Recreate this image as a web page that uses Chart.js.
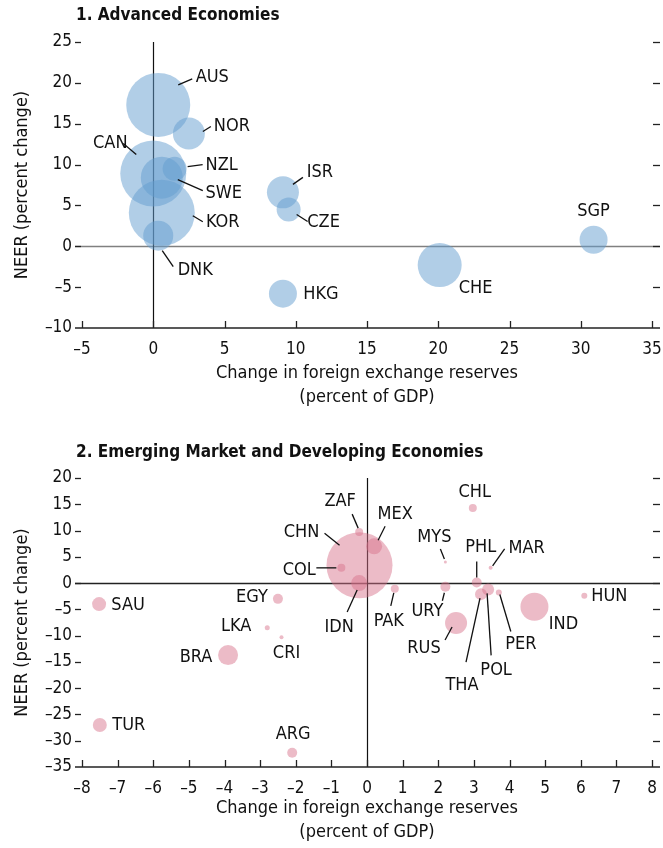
<!DOCTYPE html>
<html>
<head>
<meta charset="utf-8">
<script src="https://cdn.jsdelivr.net/npm/chart.js"></script>
<style>
  html, body { margin: 0; padding: 0; background: #fff; }
  #wrap { position: relative; width: 663px; height: 848px; }
  #advChart { position: absolute; left: 0; top: 0; }
  #emChart { position: absolute; left: 0; top: 420px; }
</style>
</head>
<body>
<div id="wrap">
  <canvas id="advChart" width="663" height="410"></canvas>
  <canvas id="emChart" width="663" height="428"></canvas>
</div>
<script>
// Panel 1: advanced economies
const advNames = ['AUS', 'NOR', 'CAN', 'NZL', 'SWE', 'KOR', 'DNK', 'ISR', 'CZE', 'HKG', 'CHE', 'SGP']
const advReserves = [0.35, 2.5, 0.0, 1.5, 0.6, 0.6, 0.35, 9.1, 9.5, 9.1, 20.1, 30.9]
const advNeer = [17.3, 13.8, 8.9, 9.5, 8.4, 4.1, 1.3, 6.6, 4.5, -5.8, -2.3, 0.8]
const advSize = [32, 16, 33, 12, 21, 33, 15, 16, 12, 14, 22, 14]
const advXTicks = [-5, 0, 5, 10, 15, 20, 25, 30, 35]
const advYTicks = [-10, -5, 0, 5, 10, 15, 20, 25]

// Panel 2: emerging market and developing economies
const emNames = ['SAU', 'EGY', 'LKA', 'CRI', 'BRA', 'TUR', 'ARG', 'CHN', 'ZAF', 'MEX', 'COL', 'IDN',
  'PAK', 'MYS', 'URY', 'CHL', 'PHL', 'MAR', 'THA', 'POL', 'PER', 'RUS', 'IND', 'HUN']
const emReserves = [-7.52, -2.5, -2.8, -2.4, -3.9, -7.5, -2.1, -0.21, -0.22, 0.2, -0.72, -0.22,
  0.78, 2.2, 2.2, 2.97, 3.08, 3.47, 3.2, 3.4, 3.7, 2.5, 4.7, 6.1]
const emNeer = [-4.0, -3.0, -8.5, -10.3, -13.7, -27.0, -32.3, 3.4, 9.7, 7.0, 2.9, 0.0,
  -1.1, 4.0, -0.7, 14.3, 0.1, 2.9, -2.1, -1.2, -1.8, -7.6, -4.5, -2.4]
const emSize = [7, 5, 2.5, 2, 10, 7, 5, 33, 4, 8, 4, 8,
  4, 1.5, 5, 4, 5, 2, 6, 6, 3, 11, 14, 3]
const emXTicks = [-8, -7, -6, -5, -4, -3, -2, -1, 0, 1, 2, 3, 4, 5, 6, 7, 8]
const emYTicks = [-35, -30, -25, -20, -15, -10, -5, 0, 5, 10, 15, 20]

// label placement (pixel offsets from bubble centre), leader line [x1, y1, x2, y2]
const advLabelPos = {
  AUS: { dx: 54, dy: -28, line: [20, -20, 34, -26] },
  NOR: { dx: 43, dy: -7, line: [14, -2, 22, -7] },
  CAN: { dx: -43, dy: -30, line: [-30, -30, -17, -19] },
  NZL: { dx: 47, dy: -3, line: [13, -2, 28, -4] },
  SWE: { dx: 62, dy: 16, line: [16, 2, 41, 13] },
  KOR: { dx: 61, dy: 10, line: [31, 3, 41, 9] },
  DNK: { dx: 37, dy: 35, line: [4, 15, 15, 31] },
  ISR: { dx: 37, dy: -20, line: [10, -8, 20, -15] },
  CZE: { dx: 35, dy: 13, line: [8, 5, 19, 12] },
  HKG: { dx: 38, dy: 1 },
  CHE: { dx: 36, dy: 23 },
  SGP: { dx: 0, dy: -28 }
}
const emLabelPos = {
  SAU: { dx: 29, dy: 1 },
  EGY: { dx: -26, dy: -2 },
  LKA: { dx: -31, dy: -1 },
  CRI: { dx: 5, dy: 16 },
  BRA: { dx: -32, dy: 2 },
  TUR: { dx: 29, dy: 0 },
  ARG: { dx: 1, dy: -18 },
  CHN: { dx: -58, dy: -33, line: [-35, -32, -20, -20] },
  ZAF: { dx: -19, dy: -31, line: [-7, -18, -1, -4] },
  MEX: { dx: 21, dy: -32, line: [11, -20, 4, -6] },
  COL: { dx: -42, dy: 2, line: [-25, 0, -5, 0] },
  IDN: { dx: -20, dy: 44, line: [-2, 7, -12, 29] },
  PAK: { dx: -6, dy: 32, line: [-1, 4, -4, 17] },
  MYS: { dx: -11, dy: -25, line: [-5, -13, -1, -3] },
  URY: { dx: -18, dy: 25, line: [-3, 14, -1, 6] },
  CHL: { dx: 2, dy: -16 },
  PHL: { dx: 4, dy: -35, line: [0, -21, 0, -5] },
  MAR: { dx: 36, dy: -20, line: [14, -19, 2, -2] },
  THA: { dx: -19, dy: 91, line: [-1, 4, -15, 68] },
  POL: { dx: 8, dy: 81, line: [-1, 4, 3, 66] },
  PER: { dx: 22, dy: 52, line: [1, 2, 12, 39] },
  RUS: { dx: -32, dy: 25, line: [-4, 4, -11, 17] },
  IND: { dx: 29, dy: 18 },
  HUN: { dx: 25, dy: 1 }
}

const FONT = "'Liberation Sans Narrow', 'DejaVu Sans Condensed', 'Arial Narrow', sans-serif"
Chart.defaults.font.family = FONT
Chart.defaults.color = '#111'

// axis decorations: inward x ticks, outward y dashes on both sides, zero lines
const axisDecor = {
  id: 'axisDecor',
  beforeDatasetsDraw(chart, args, opts) {
    const { ctx, chartArea: a, scales: { x, y } } = chart
    ctx.save()
    // zero lines
    ctx.lineWidth = 1.5
    ctx.strokeStyle = opts.hZeroColor
    const y0 = Math.round(y.getPixelForValue(0)) + 0.5
    ctx.beginPath(); ctx.moveTo(a.left - 7, y0); ctx.lineTo(a.right + 8, y0); ctx.stroke()
    ctx.lineWidth = 1.2
    ctx.strokeStyle = '#111'
    const x0 = Math.round(x.getPixelForValue(0)) + 0.5
    ctx.beginPath(); ctx.moveTo(x0, a.top); ctx.lineTo(x0, a.bottom); ctx.stroke()
    ctx.restore()
  },
  afterDatasetsDraw(chart, args, opts) {
    const { ctx, chartArea: a, scales: { x, y } } = chart
    ctx.save()
    ctx.strokeStyle = '#222'
    ctx.lineWidth = 1.5
    // bottom axis line
    ctx.beginPath(); ctx.moveTo(a.left - 7, a.bottom); ctx.lineTo(a.right + 8, a.bottom); ctx.stroke()
    ctx.lineWidth = 1.3
    opts.xTicks.forEach(v => {
      const px = Math.round(x.getPixelForValue(v)) + 0.5
      ctx.beginPath(); ctx.moveTo(px, a.bottom); ctx.lineTo(px, a.bottom - 7); ctx.stroke()
    })
    opts.yTicks.forEach(v => {
      const py = Math.round(y.getPixelForValue(v)) + 0.5
      if (v === opts.yTicks[0]) return
      ctx.beginPath(); ctx.moveTo(a.left - 7, py); ctx.lineTo(a.left - 1, py); ctx.stroke()
      ctx.beginPath(); ctx.moveTo(a.right + 1, py); ctx.lineTo(a.right + 8, py); ctx.stroke()
    })
    ctx.restore()
  }
}

// country labels with leader lines
const bubbleLabels = {
  id: 'bubbleLabels',
  afterDatasetsDraw(chart, args, opts) {
    const { ctx } = chart
    const meta = chart.getDatasetMeta(0)
    ctx.save()
    ctx.font = '18px ' + FONT
    ctx.fillStyle = '#111'
    ctx.strokeStyle = '#111'
    ctx.lineWidth = 1.3
    ctx.textAlign = 'center'
    ctx.textBaseline = 'middle'
    opts.names.forEach((name, i) => {
      const el = meta.data[i]
      const p = opts.pos[name]
      if (!el || !p) return
      if (p.line) {
        ctx.beginPath()
        ctx.moveTo(el.x + p.line[0], el.y + p.line[1])
        ctx.lineTo(el.x + p.line[2], el.y + p.line[3])
        ctx.stroke()
      }
      ctx.fillText(name, el.x + p.dx, el.y + p.dy)
    })
    ctx.restore()
  }
}

// panel title, drawn at the top left
const panelTitle = {
  id: 'panelTitle',
  afterDraw(chart, args, opts) {
    const { ctx } = chart
    ctx.save()
    ctx.font = 'bold 17px ' + FONT
    ctx.fillStyle = '#111'
    ctx.textAlign = 'left'
    ctx.textBaseline = 'middle'
    ctx.fillText(opts.text, 76, opts.y)
    ctx.restore()
  }
}

function makeChart(canvas, cfg) {
  return new Chart(canvas, {
    type: 'bubble',
    data: {
      datasets: [{
        data: cfg.xs.map((v, i) => ({ x: v, y: cfg.ys[i], r: cfg.sizes[i] })),
        backgroundColor: cfg.color,
        hoverBackgroundColor: cfg.color,
        borderWidth: 0,
        hoverBorderWidth: 0,
        clip: false
      }]
    },
    options: {
      responsive: false,
      animation: false,
      events: [],
      layout: { autoPadding: false, padding: { top: cfg.top, left: 0, right: 0, bottom: 0 } },
      plugins: {
        legend: { display: false },
        tooltip: { enabled: false },
        axisDecor: { xTicks: cfg.xTicks, yTicks: cfg.yTicks, hZeroColor: cfg.hZeroColor },
        bubbleLabels: { names: cfg.names, pos: cfg.labelPos },
        panelTitle: { text: cfg.title, y: cfg.titleY }
      },
      scales: {
        x: {
          type: 'linear',
          min: cfg.xTicks[0],
          max: cfg.xTicks[cfg.xTicks.length - 1],
          afterBuildTicks: s => { s.ticks = cfg.xTicks.map(v => ({ value: v })) },
          afterFit: s => {
            s.height = cfg.xAxisHeight
            s.paddingLeft = 0
            s.paddingRight = 0
          },
          grid: { display: false, drawTicks: false },
          border: { display: false },
          ticks: {
            padding: 11,
            font: { size: 17 },
            color: '#111',
            maxRotation: 0,
            autoSkip: false,
            callback: v => String(v).replace('-', '\u2013')
          },
          title: {
            display: true,
            text: ['Change in foreign exchange reserves', '(percent of GDP)'],
            font: { size: 18, lineHeight: 1.33 },
            color: '#111',
            padding: { top: 0, bottom: cfg.xTitlePad }
          }
        },
        y: {
          type: 'linear',
          min: cfg.yTicks[0],
          max: cfg.yTicks[cfg.yTicks.length - 1],
          afterBuildTicks: s => { s.ticks = cfg.yTicks.map(v => ({ value: v })) },
          afterFit: s => {
            s.width = 82
            s.paddingTop = 0
            s.paddingBottom = 0
          },
          grid: { display: false, drawTicks: false },
          border: { display: false },
          ticks: {
            padding: 10,
            font: { size: 17 },
            color: '#111',
            autoSkip: false,
            callback: v => String(v).replace('-', '\u2013')
          },
          title: {
            display: true,
            text: 'NEER (percent change)',
            font: { size: 18 },
            color: '#111',
            padding: { top: 12, bottom: 0 }
          }
        },
        yRight: {
          type: 'linear',
          position: 'right',
          min: cfg.yTicks[0],
          max: cfg.yTicks[cfg.yTicks.length - 1],
          afterFit: s => {
            s.width = 11
            s.paddingTop = 0
            s.paddingBottom = 0
          },
          grid: { display: false, drawTicks: false },
          border: { display: false },
          ticks: { display: false }
        }
      }
    },
    plugins: [axisDecor, bubbleLabels, panelTitle]
  })
}

makeChart(document.getElementById('advChart'), {
  names: advNames, xs: advReserves, ys: advNeer, sizes: advSize,
  xTicks: advXTicks, yTicks: advYTicks, labelPos: advLabelPos,
  color: 'rgba(100, 158, 208, 0.5)', hZeroColor: '#808080',
  top: 42, xAxisHeight: 82, xTitlePad: 1,
  title: '1. Advanced Economies', titleY: 16
})

makeChart(document.getElementById('emChart'), {
  names: emNames, xs: emReserves, ys: emNeer, sizes: emSize,
  xTicks: emXTicks, yTicks: emYTicks, labelPos: emLabelPos,
  color: 'rgba(216, 112, 138, 0.48)', hZeroColor: '#222',
  top: 58, xAxisHeight: 81, xTitlePad: 4,
  title: '2. Emerging Market and Developing Economies', titleY: 33
})
</script>
</body>
</html>
